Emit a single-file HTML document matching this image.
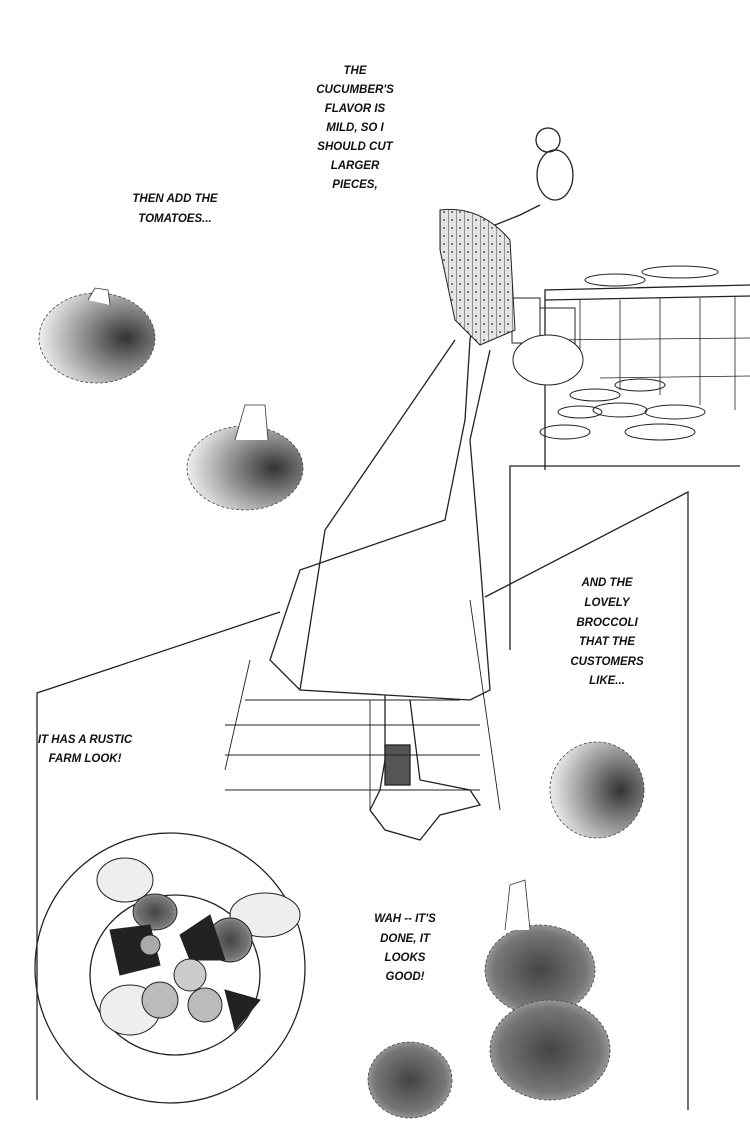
<!DOCTYPE html>
<html><head><meta charset="utf-8"><style>
html,body{margin:0;padding:0;background:#fff}
svg{display:block}
text{font-family:"Liberation Sans",sans-serif;font-style:italic;font-weight:bold;font-size:11.5px;fill:#111;text-anchor:middle}
</style></head><body>
<svg width="750" height="1125" viewBox="0 0 750 1125" xmlns="http://www.w3.org/2000/svg">
<defs>
<radialGradient id="br" cx="0.75" cy="0.5" r="0.75">
<stop offset="0" stop-color="#333"/><stop offset="0.45" stop-color="#888"/><stop offset="1" stop-color="#eee"/></radialGradient>
<radialGradient id="bd" cx="0.5" cy="0.5" r="0.6">
<stop offset="0" stop-color="#444"/><stop offset="0.7" stop-color="#777"/><stop offset="1" stop-color="#bbb"/></radialGradient>
<pattern id="pt" width="8" height="8" patternUnits="userSpaceOnUse"><rect width="8" height="8" fill="#e4e4e4"/><line x1="0" y1="0" x2="0" y2="8" stroke="#777" stroke-width="1.5"/><circle cx="4" cy="4" r="1" fill="#555"/></pattern>
</defs>
<g stroke="#222" fill="none" stroke-width="1.3">
<polyline points="37,1100 37,693 280,612"/>
<polyline points="485,597 688,492 688,1110"/>
<polyline points="510,650 510,466 740,466"/>
<polyline points="545,470 545,290 750,285"/>
<line x1="545" y1="300" x2="750" y2="296"/>
<g stroke-width="0.8"><line x1="580" y1="300" x2="580" y2="360"/><line x1="620" y1="300" x2="620" y2="390"/><line x1="660" y1="298" x2="660" y2="395"/><line x1="700" y1="298" x2="700" y2="405"/><line x1="735" y1="296" x2="735" y2="410"/>
<line x1="545" y1="340" x2="750" y2="338"/><line x1="600" y1="378" x2="750" y2="376"/></g>
<g stroke-width="1"><ellipse cx="615" cy="280" rx="30" ry="6"/><ellipse cx="680" cy="272" rx="38" ry="6"/>
<ellipse cx="640" cy="385" rx="25" ry="6"/><ellipse cx="595" cy="395" rx="25" ry="6"/><ellipse cx="620" cy="410" rx="27" ry="7"/><ellipse cx="580" cy="412" rx="22" ry="6"/><ellipse cx="675" cy="412" rx="30" ry="7"/><ellipse cx="565" cy="432" rx="25" ry="7"/><ellipse cx="660" cy="432" rx="35" ry="8"/>
<rect x="512" y="298" width="28" height="45"/><rect x="540" y="308" width="35" height="40"/>
<ellipse cx="548" cy="360" rx="35" ry="25" fill="#fff"/></g>
<ellipse cx="555" cy="175" rx="18" ry="25"/>
<ellipse cx="548" cy="140" rx="12" ry="12"/>
<path d="M540,205 L520,215 L495,225 L480,280 L470,340 L465,420 L445,520 L300,570 L270,660 L300,690 L470,700 L490,690 L480,560 L470,440 L490,350"/>
<path d="M440,210 Q480,205 510,240 L515,330 L480,345 L455,320 L440,250Z" fill="url(#pt)" stroke-width="1"/>
<path d="M455,340 L325,530 L300,690"/>
<path d="M385,695 L385,760 L380,790 L370,810 L385,830 L420,840 L440,815 L480,805 L470,790 L420,780 L410,700"/>
<rect x="385" y="745" width="25" height="40" fill="#555"/>
<g stroke-width="0.9"><line x1="245" y1="700" x2="460" y2="700"/><line x1="225" y1="725" x2="480" y2="725"/><line x1="225" y1="755" x2="480" y2="755"/><line x1="225" y1="790" x2="480" y2="790"/><line x1="250" y1="660" x2="225" y2="770"/><line x1="370" y1="700" x2="370" y2="810"/><line x1="470" y1="600" x2="500" y2="810"/></g>
<circle cx="170" cy="968" r="135"/>
<ellipse cx="175" cy="975" rx="85" ry="80"/>
</g>
<g stroke="#222" stroke-width="1">
<ellipse cx="125" cy="880" rx="28" ry="22" fill="#eee"/><ellipse cx="265" cy="915" rx="35" ry="22" fill="#eee"/><ellipse cx="130" cy="1010" rx="30" ry="25" fill="#eee"/>
<ellipse cx="155" cy="912" rx="22" ry="18" fill="url(#bd)"/><ellipse cx="230" cy="940" rx="22" ry="22" fill="url(#bd)"/>
<path d="M110,930 L150,925 L160,965 L120,975Z" fill="#222"/><path d="M180,935 L210,915 L225,960 L190,960Z" fill="#222"/>
<circle cx="190" cy="975" r="16" fill="#ccc"/><circle cx="160" cy="1000" r="18" fill="#bbb"/><circle cx="205" cy="1005" r="17" fill="#bbb"/>
<path d="M225,990 L260,1000 L235,1030 Z" fill="#222"/><circle cx="150" cy="945" r="10" fill="#aaa"/>
</g>
<g stroke="#444" stroke-width="0.8" stroke-dasharray="3 2">
<ellipse cx="97" cy="338" rx="58" ry="45" fill="url(#br)"/>
<ellipse cx="245" cy="468" rx="58" ry="42" fill="url(#br)"/>
<ellipse cx="597" cy="790" rx="47" ry="48" fill="url(#br)"/>
<ellipse cx="540" cy="970" rx="55" ry="45" fill="url(#bd)"/>
<ellipse cx="550" cy="1050" rx="60" ry="50" fill="url(#bd)"/>
<ellipse cx="410" cy="1080" rx="42" ry="38" fill="url(#bd)"/>
</g>
<g stroke="#333" stroke-width="0.8" fill="#fff">
<path d="M235,440 L245,405 L265,405 L268,440"/>
<path d="M88,300 L95,288 L108,290 L110,305"/>
<path d="M505,930 L510,885 L525,880 L530,930"/>
</g>
<text x="355" y="74">THE</text><text x="355" y="93">CUCUMBER'S</text><text x="355" y="112">FLAVOR IS</text><text x="355" y="131">MILD, SO I</text><text x="355" y="150">SHOULD CUT</text><text x="355" y="169">LARGER</text><text x="355" y="188">PIECES,</text>
<text x="175" y="202">THEN ADD THE</text><text x="175" y="222">TOMATOES...</text>
<text x="607" y="586">AND THE</text><text x="607" y="606">LOVELY</text><text x="607" y="626">BROCCOLI</text><text x="607" y="645">THAT THE</text><text x="607" y="665">CUSTOMERS</text><text x="607" y="684">LIKE...</text>
<text x="85" y="743">IT HAS A RUSTIC</text><text x="85" y="762">FARM LOOK!</text>
<text x="405" y="922">WAH -- IT'S</text><text x="405" y="942">DONE, IT</text><text x="405" y="961">LOOKS</text><text x="405" y="980">GOOD!</text>
</svg>
</body></html>
